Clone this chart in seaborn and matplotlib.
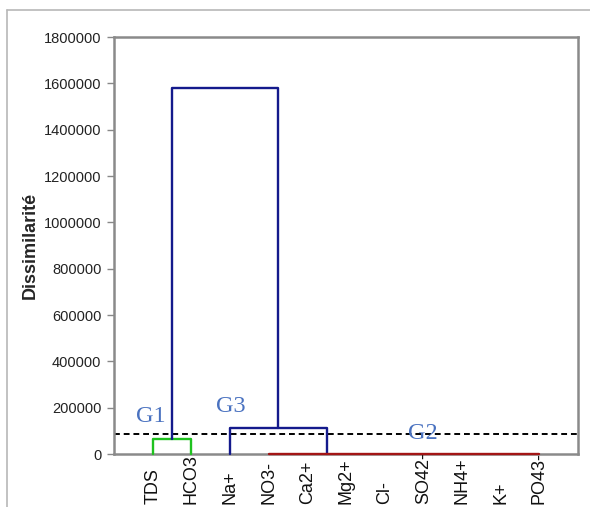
import matplotlib
matplotlib.use("Agg")
import matplotlib.pyplot as plt
from matplotlib.lines import Line2D
import matplotlib.transforms as mtransforms
import numpy as np
import pandas as pd
import seaborn as sns

# Variables (leaves of the dendrogram, left to right)
labels = ["TDS", "HCO3", "Na+", "NO3-", "Ca2+", "Mg2+", "Cl-", "SO42-", "NH4+", "K+", "PO43-"]

# Agglomeration heights (dissimilarity)
g1_height = 65000        # TDS + HCO3
g2_height = 2000         # NO3- ... PO43-
g3_height = 112000       # Na+ + G2
root_height = 1580000    # G1 + G3
cut_level = 86000        # truncation line

# Horizontal anchor of the G2 node on the leaf axis
g2_anchor = 5.5

group_names = ["G1", "G2", "G3"]
group_label_x = [0.96, 7.99, 3.03]
group_label_y = [160000, 90000, 207000]

leaf_x = np.arange(1, len(labels) + 1)
pos = dict(zip(labels, leaf_x))

g1_x = (pos["TDS"] + pos["HCO3"]) / 2
g3_x = (pos["Na+"] + g2_anchor) / 2

segments = []

def bracket(name, xl, yl, xr, yr, top, cluster):
    segments.append(pd.DataFrame({
        "x": [xl, xl, xr, xr],
        "y": [yl, top, top, yr],
        "seg": name,
        "cluster": cluster,
    }))

bracket("g1", pos["TDS"], 0, pos["HCO3"], 0, g1_height, "G1")
bracket("g3", pos["Na+"], 0, g2_anchor, g2_height, g3_height, "root")
bracket("root", g1_x, g1_height, g3_x, g3_height, root_height, "root")
segments.append(pd.DataFrame({
    "x": [pos["NO3-"], pos["PO43-"]],
    "y": [g2_height, g2_height],
    "seg": "g2",
    "cluster": "G2",
}))
tree = pd.concat(segments, ignore_index=True)

sns.set_theme(style="white")
plt.rcParams["font.family"] = ["Liberation Sans", "DejaVu Sans"]

fig = plt.figure(figsize=(5.9, 5.07), dpi=100)
ax = fig.add_axes([0.1932, 0.1045, 0.7865, 0.8225])

palette = {"G1": "#1fc21f", "G2": "#a31515", "root": "#141a8c"}
sns.lineplot(data=tree, x="x", y="y", units="seg", estimator=None, sort=False,
             hue="cluster", palette=palette, linewidth=1.7, legend=False, ax=ax)
# keep the branches on top of the frame so the near-zero cluster stays visible
for line in ax.get_lines():
    line.set_zorder(4)
    line.set_clip_on(False)

ax.axhline(cut_level, color="black", linestyle=(0, (3, 2)), linewidth=1.4)

for name, gx, gy in zip(group_names, group_label_x, group_label_y):
    ax.text(gx, gy, name, color="#4a72c0", fontsize=17.5,
            family=["Liberation Serif", "DejaVu Serif"], ha="center", va="center",
            zorder=5)

ax.set_xlim(0, len(labels) + 1)
ax.set_ylim(0, 1800000)
ax.set_yticks(np.arange(0, 1800001, 200000))
ax.set_yticklabels([f"{v:d}" for v in range(0, 1800001, 200000)])
ax.set_xticks(leaf_x)
ax.set_xticklabels([])
ax.tick_params(axis="x", length=0)
ax.tick_params(axis="y", length=5, width=1, color="#888888", labelsize=10.5,
               labelcolor="#222222", pad=4, direction="out", left=True)

# leaf labels, read bottom to top, all starting from a common baseline
leaf_trans = mtransforms.blended_transform_factory(ax.transData, ax.transAxes)
for lx, lab in zip(leaf_x, labels):
    ax.text(lx, -0.12, lab, rotation=90, fontsize=13, color="#111111",
            ha="center", va="bottom", transform=leaf_trans, clip_on=False)

ax.set_xlabel("")
ax.set_ylabel("Dissimilarité", fontsize=13, fontweight="bold", labelpad=4)

for side in ["left", "right", "top", "bottom"]:
    ax.spines[side].set_visible(True)
    ax.spines[side].set_color("#8a8a8a")
    ax.spines[side].set_linewidth(1.8)

# thin frame around the figure
fig.add_artist(Line2D([7 / 590, 1], [1 - 10 / 507, 1 - 10 / 507],
                      transform=fig.transFigure, color="#b8b8b8", linewidth=1.2))
fig.add_artist(Line2D([7 / 590, 7 / 590], [0, 1 - 10 / 507],
                      transform=fig.transFigure, color="#b8b8b8", linewidth=1.2))

fig.savefig("out.png", dpi=100)
